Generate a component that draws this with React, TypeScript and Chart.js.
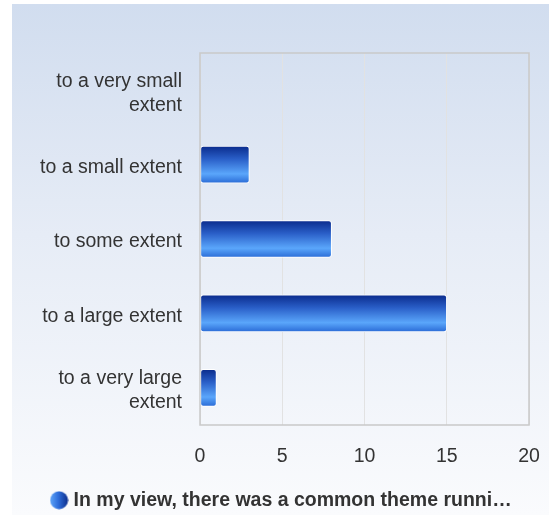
import React, { useEffect, useRef } from "react";
import { Chart, registerables } from "chart.js";

Chart.register(...registerables);

const categories: (string | string[])[] = [
  ["to a very small", "extent"],
  "to a small extent",
  "to some extent",
  "to a large extent",
  ["to a very large", "extent"],
];
const seriesLabel = "In my view, there was a common theme runni…";
const seriesValues = [0, 3, 8, 15, 1];
const xMin = 0;
const xMax = 20;
const xStep = 5;

const FONT = "'Liberation Sans', Arial, Helvetica, sans-serif";

function makeLegendDot(): HTMLCanvasElement {
  const c = document.createElement("canvas");
  const s = 19;
  c.width = s;
  c.height = s;
  const ctx = c.getContext("2d")!;
  const g = ctx.createLinearGradient(0, 0, s, 0);
  g.addColorStop(0, "#62a8fa");
  g.addColorStop(0.45, "#2f6fdc");
  g.addColorStop(1, "#0a2a88");
  ctx.fillStyle = g;
  ctx.beginPath();
  ctx.arc(s / 2, s / 2, s / 2 - 0.5, 0, Math.PI * 2);
  ctx.fill();
  return c;
}

export default function App() {
  const ref = useRef<HTMLCanvasElement | null>(null);

  useEffect(() => {
    if (!ref.current) return;
    const dot = makeLegendDot();

    const borderPlugin = {
      id: "plotBorder",
      afterDraw(chart: any) {
        const { ctx, chartArea } = chart;
        ctx.save();
        ctx.strokeStyle = "#c9c9c9";
        ctx.lineWidth = 1.5;
        ctx.strokeRect(chartArea.left, chartArea.top, chartArea.right - chartArea.left, chartArea.bottom - chartArea.top);
        ctx.restore();
      },
    };

    const chart = new Chart(ref.current, {
      type: "bar",
      data: {
        labels: categories,
        datasets: [
          {
            label: seriesLabel,
            data: seriesValues,
            barThickness: 37,
            borderColor: "#ffffff",
            borderWidth: 1,
            borderRadius: 3,
            borderSkipped: false,
            backgroundColor: (context: any) => {
              const chart = context.chart;
              const yScale = chart.scales?.y;
              if (!yScale || context.dataIndex === undefined) return "#2f6fdc";
              const cy = yScale.getPixelForValue(context.dataIndex);
              if (!isFinite(cy)) return "#2f6fdc";
              const g = chart.ctx.createLinearGradient(0, cy - 18.5, 0, cy + 18.5);
              g.addColorStop(0, "#0a2b8c");
              g.addColorStop(0.35, "#2a5fc8");
              g.addColorStop(0.75, "#5aa6fb");
              g.addColorStop(1, "#2a6bd6");
              return g;
            },
          },
        ],
      },
      options: {
        indexAxis: "y",
        animation: false,
        responsive: false,
        maintainAspectRatio: false,
        layout: { padding: { top: 53, right: 20, left: 37, bottom: -5 } },
        scales: {
          x: {
            min: xMin,
            max: xMax,
            ticks: { stepSize: xStep, color: "#333333", font: { family: FONT, size: 19.5 }, padding: 20 },
            grid: { color: "#e2e2e2", lineWidth: 1, drawTicks: false },
            border: { display: false },
            afterFit: (scale: any) => {
              scale.height = 60.5;
              scale.paddingRight = 0;
              scale.paddingLeft = 0;
            },
          },
          y: {
            ticks: {
              color: "#333333",
              font: { family: FONT, size: 19.5, lineHeight: 1.23 },
              padding: 18,
              labelOffset: 3,
            },
            grid: { display: false, drawTicks: false },
            border: { display: false },
            afterFit: (scale: any) => {
              scale.width = 163;
              scale.paddingTop = 0;
              scale.paddingBottom = 0;
            },
          },
        },
        plugins: {
          legend: {
            position: "bottom",
            labels: {
              usePointStyle: true,
              pointStyle: dot as any,
              pointStyleWidth: 9.5,
              color: "#333333",
              font: { family: FONT, size: 19.5, weight: "bold" },
              padding: 5,
              generateLabels: (ch: any) => {
                const items = Chart.defaults.plugins.legend.labels.generateLabels(ch);
                return items.map((it: any) => ({ ...it, pointStyle: dot, fillStyle: "#2f6fdc", strokeStyle: "transparent", lineWidth: 0 }));
              },
            },
          },
          tooltip: { enabled: false },
        },
      },
      plugins: [borderPlugin],
    });
    return () => chart.destroy();
  }, []);

  return (
    <div style={{ position: "absolute", left: 0, top: 0, width: 549, height: 515, background: "#ffffff" }}>
      <div
        style={{
          position: "absolute",
          left: 12,
          top: 4,
          width: 537,
          height: 511,
          background: "linear-gradient(to bottom, #d1ddef 0%, #e6ecf6 45%, #fafbfd 100%)",
        }}
      />
      <canvas ref={ref} width={549} height={515} style={{ position: "absolute", left: 0, top: 0, width: 549, height: 515 }} />
    </div>
  );
}
